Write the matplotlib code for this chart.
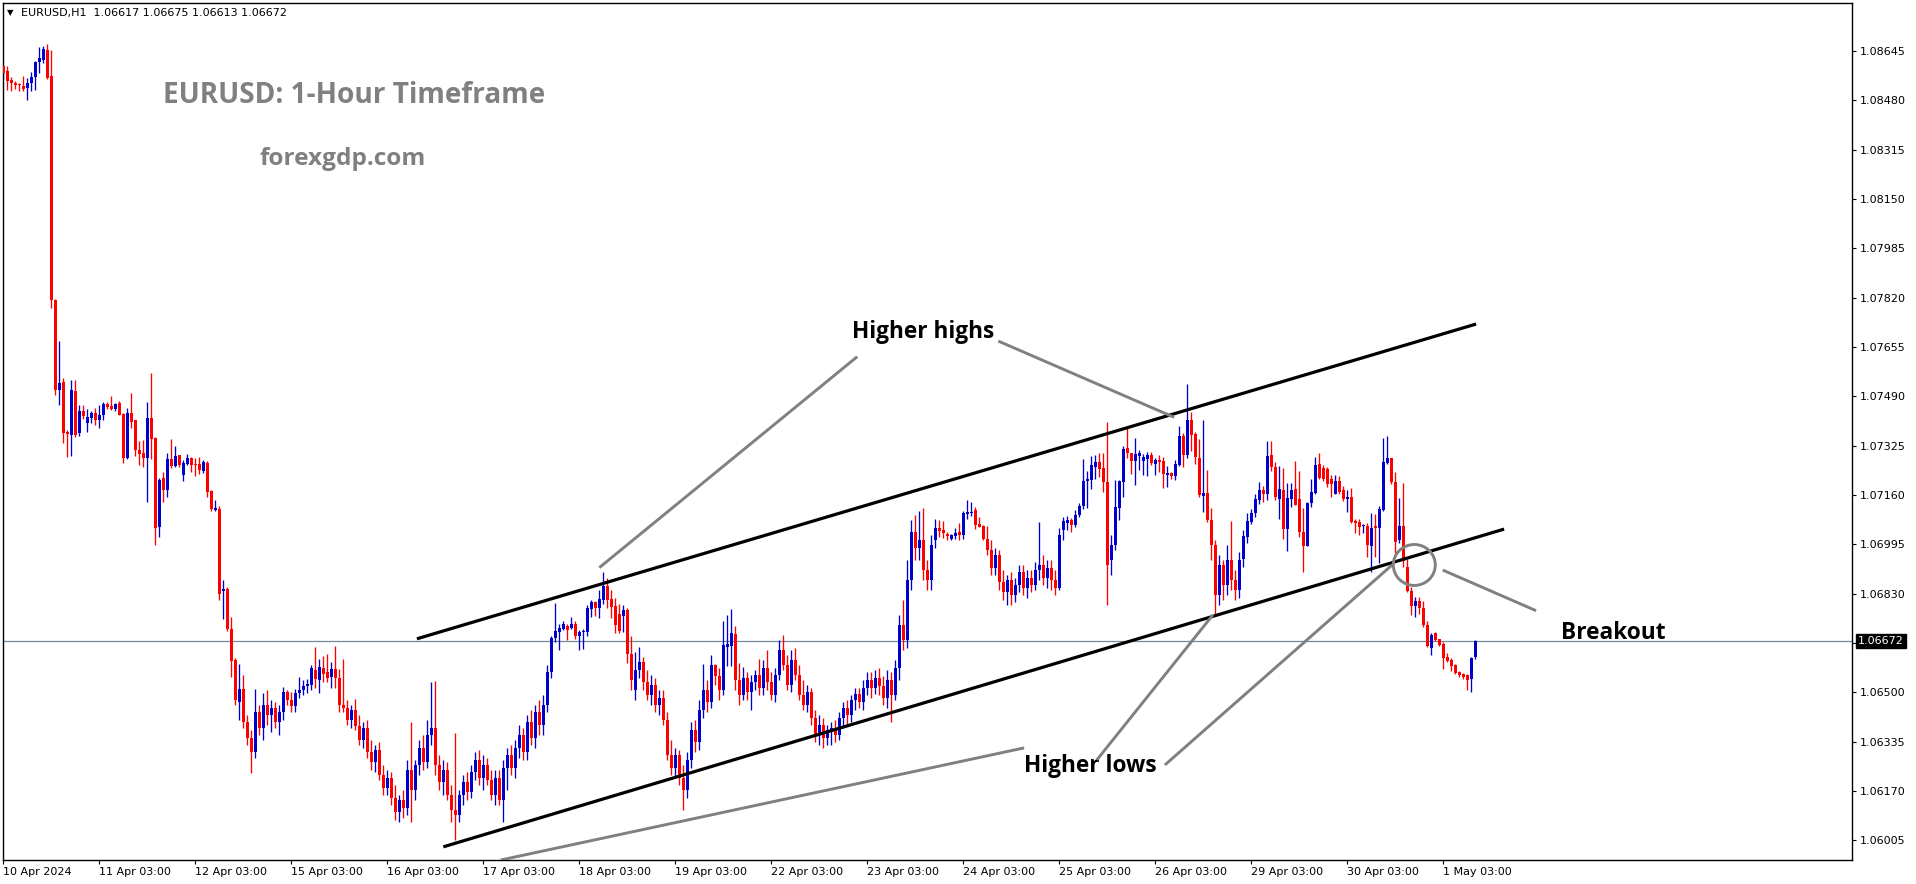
import numpy as np
import matplotlib
matplotlib.use("Agg")
import matplotlib.pyplot as plt
from matplotlib.patches import Ellipse

# ---------------- data (EURUSD H1) ----------------
opens = [
 1.08595,1.08579,1.08548,1.08538,1.08535,1.08528,1.08522,1.08538,1.08558,1.08609,1.08615,1.08649,
 1.08562,1.07813,1.07511,1.07538,1.07371,1.07361,1.07508,1.07368,1.07441,1.07401,1.07418,1.07435,
 1.07411,1.07428,1.07465,1.07458,1.07448,1.07468,1.07431,1.07284,1.07435,1.07411,1.07311,1.07301,
 1.07284,1.07418,1.07351,1.07053,1.07217,1.07177,1.07281,1.07257,1.07294,1.07227,1.07264,1.07284,
 1.07264,1.07264,1.07240,1.07267,1.07174,1.07110,1.07113,1.06839,1.06846,1.06712,1.06608,1.06467,
 1.06511,1.06401,1.06347,1.06300,1.06434,1.06381,1.06457,1.06424,1.06448,1.06401,1.06434,1.06501,
 1.06474,1.06454,1.06498,1.06508,1.06521,1.06524,1.06574,1.06541,1.06581,1.06568,1.06551,1.06578,
 1.06548,1.06457,1.06448,1.06408,1.06441,1.06387,1.06341,1.06381,1.06300,1.06267,1.06307,1.06223,
 1.06180,1.06214,1.06147,1.06100,1.06140,1.06113,1.06240,1.06173,1.06257,1.06314,1.06267,1.06357,
 1.06381,1.06257,1.06200,1.06240,1.06157,1.06107,1.06090,1.06157,1.06200,1.06167,1.06234,1.06274,
 1.06214,1.06257,1.06207,1.06157,1.06214,1.06140,1.06247,1.06290,1.06247,1.06314,1.06357,1.06300,
 1.06401,1.06347,1.06434,1.06391,1.06457,1.06568,1.06682,1.06702,1.06712,1.06722,1.06715,1.06729,
 1.06689,1.06702,1.06702,1.06779,1.06802,1.06782,1.06809,1.06856,1.06812,1.06789,1.06762,1.06755,
 1.06775,1.06628,1.06508,1.06574,1.06601,1.06535,1.06491,1.06524,1.06457,1.06481,1.06408,1.06290,
 1.06247,1.06290,1.06214,1.06173,1.06274,1.06374,1.06334,1.06441,1.06508,1.06468,1.06591,1.06555,
 1.06508,1.06652,1.06655,1.06695,1.06541,1.06491,1.06548,1.06501,1.06535,1.06558,1.06515,1.06581,
 1.06535,1.06491,1.06558,1.06641,1.06591,1.06524,1.06608,1.06558,1.06491,1.06457,1.06501,1.06414,
 1.06357,1.06391,1.06347,1.06374,1.06381,1.06357,1.06414,1.06448,1.06424,1.06474,1.06495,1.06468,
 1.06515,1.06541,1.06515,1.06548,1.06521,1.06481,1.06541,1.06491,1.06581,1.06725,1.06675,1.06876,
 1.07036,1.06983,1.07010,1.06909,1.06876,1.07010,1.07050,1.07043,1.07030,1.07013,1.07023,1.07036,
 1.07026,1.07097,1.07100,1.07110,1.07063,1.07056,1.07013,1.06976,1.06916,1.06959,1.06869,1.06836,
 1.06876,1.06826,1.06859,1.06903,1.06849,1.06883,1.06859,1.06909,1.06926,1.06883,1.06916,1.06876,
 1.06849,1.07043,1.07067,1.07077,1.07060,1.07093,1.07124,1.07207,1.07210,1.07254,1.07271,1.07251,
 1.07204,1.06943,1.06993,1.07117,1.07204,1.07317,1.07301,1.07274,1.07291,1.07274,1.07281,1.07294,
 1.07264,1.07277,1.07274,1.07227,1.07234,1.07224,1.07261,1.07358,1.07294,1.07411,1.07364,1.07284,
 1.07157,1.07167,1.07077,1.06993,1.06826,1.06926,1.06859,1.06943,1.06876,1.06842,1.06946,1.07020,
 1.07070,1.07100,1.07144,1.07177,1.07164,1.07294,1.07254,1.07147,1.07177,1.07046,1.07147,1.07180,
 1.07147,1.07036,1.06990,1.07134,1.07167,1.07264,1.07251,1.07247,1.07214,1.07164,1.07207,1.07177,
 1.07147,1.07154,1.07073,1.07070,1.07056,1.07056,1.06990,1.07056,1.07050,1.07110,1.07267,1.07284,
 1.07204,1.07010,1.07056,1.06919,1.06839,1.06789,1.06806,1.06782,1.06725,1.06648,1.06699,1.06679,
 1.06662,1.06618,1.06608,1.06591,1.06568,1.06561,1.06558,1.06545,1.06617]

highs = [
 1.08599,1.08595,1.08558,1.08545,1.08538,1.08562,1.08555,1.08575,1.08612,1.08659,1.08662,1.08669,
 1.08649,1.07816,1.07675,1.07552,1.07378,1.07545,1.07545,1.07461,1.07461,1.07448,1.07441,1.07451,
 1.07461,1.07471,1.07471,1.07491,1.07468,1.07475,1.07435,1.07451,1.07501,1.07411,1.07341,1.07344,
 1.07471,1.07568,1.07354,1.07217,1.07237,1.07301,1.07348,1.07324,1.07294,1.07277,1.07297,1.07287,
 1.07284,1.07287,1.07277,1.07274,1.07177,1.07144,1.07124,1.06876,1.06852,1.06752,1.06615,1.06595,
 1.06558,1.06424,1.06374,1.06511,1.06457,1.06498,1.06508,1.06474,1.06468,1.06457,1.06518,1.06508,
 1.06501,1.06511,1.06551,1.06541,1.06545,1.06591,1.06651,1.06611,1.06621,1.06628,1.06601,1.06655,
 1.06578,1.06611,1.06474,1.06457,1.06478,1.06424,1.06401,1.06408,1.06341,1.06324,1.06334,1.06257,
 1.06240,1.06234,1.06190,1.06157,1.06173,1.06274,1.06401,1.06274,1.06341,1.06357,1.06408,1.06535,
 1.06538,1.06290,1.06274,1.06267,1.06190,1.06364,1.06173,1.06223,1.06234,1.06257,1.06300,1.06307,
 1.06290,1.06280,1.06240,1.06240,1.06240,1.06274,1.06314,1.06324,1.06341,1.06391,1.06381,1.06424,
 1.06441,1.06457,1.06474,1.06491,1.06591,1.06689,1.06799,1.06729,1.06739,1.06729,1.06752,1.06739,
 1.06708,1.06712,1.06792,1.06809,1.06806,1.06842,1.06903,1.06883,1.06842,1.06816,1.06796,1.06792,
 1.06782,1.06689,1.06635,1.06651,1.06618,1.06574,1.06558,1.06548,1.06508,1.06508,1.06434,1.06341,
 1.06314,1.06307,1.06257,1.06300,1.06401,1.06408,1.06474,1.06595,1.06541,1.06625,1.06595,1.06581,
 1.06739,1.06759,1.06779,1.06722,1.06598,1.06585,1.06568,1.06558,1.06574,1.06611,1.06608,1.06641,
 1.06568,1.06581,1.06675,1.06692,1.06625,1.06641,1.06648,1.06591,1.06541,1.06524,1.06515,1.06441,
 1.06424,1.06414,1.06391,1.06401,1.06408,1.06434,1.06468,1.06474,1.06491,1.06515,1.06515,1.06541,
 1.06568,1.06568,1.06574,1.06581,1.06555,1.06574,1.06568,1.06608,1.06759,1.06809,1.06943,1.07077,
 1.07093,1.07107,1.07117,1.06943,1.07026,1.07080,1.07077,1.07073,1.07036,1.07030,1.07050,1.07067,
 1.07107,1.07144,1.07137,1.07120,1.07087,1.07060,1.07056,1.07010,1.06983,1.06976,1.06909,1.06893,
 1.06903,1.06883,1.06926,1.06926,1.06909,1.06909,1.06936,1.07070,1.06959,1.06943,1.06943,1.06909,
 1.07050,1.07087,1.07090,1.07083,1.07110,1.07133,1.07281,1.07240,1.07291,1.07294,1.07301,1.07301,
 1.07404,1.07026,1.07210,1.07210,1.07324,1.07388,1.07301,1.07351,1.07311,1.07297,1.07304,1.07304,
 1.07284,1.07294,1.07287,1.07257,1.07237,1.07277,1.07391,1.07368,1.07532,1.07438,1.07371,1.07348,
 1.07411,1.07244,1.07117,1.07010,1.06959,1.06943,1.06993,1.07073,1.06909,1.06970,1.07043,1.07100,
 1.07113,1.07164,1.07204,1.07190,1.07341,1.07341,1.07271,1.07257,1.07251,1.07200,1.07200,1.07274,
 1.07240,1.07117,1.07137,1.07214,1.07287,1.07301,1.07261,1.07254,1.07227,1.07227,1.07224,1.07190,
 1.07177,1.07184,1.07080,1.07080,1.07063,1.07067,1.07100,1.07097,1.07124,1.07351,1.07358,1.07284,
 1.07237,1.07150,1.07200,1.06946,1.06852,1.06819,1.06819,1.06806,1.06739,1.06699,1.06702,1.06679,
 1.06668,1.06632,1.06615,1.06595,1.06571,1.06565,1.06561,1.06618,1.06675]

lows = [
 1.08552,1.08515,1.08512,1.08518,1.08512,1.08512,1.08481,1.08512,1.08515,1.08572,1.08605,1.08552,
 1.07786,1.07495,1.07461,1.07334,1.07287,1.07291,1.07354,1.07358,1.07414,1.07371,1.07401,1.07394,
 1.07384,1.07411,1.07448,1.07445,1.07441,1.07428,1.07267,1.07281,1.07384,1.07291,1.07261,1.07254,
 1.07137,1.07281,1.06993,1.07020,1.07137,1.07154,1.07251,1.07254,1.07254,1.07207,1.07261,1.07237,
 1.07224,1.07230,1.07234,1.07154,1.07107,1.07107,1.06809,1.06745,1.06705,1.06551,1.06457,1.06408,
 1.06381,1.06324,1.06230,1.06280,1.06357,1.06341,1.06391,1.06367,1.06381,1.06357,1.06408,1.06457,
 1.06434,1.06434,1.06481,1.06491,1.06498,1.06508,1.06515,1.06498,1.06535,1.06535,1.06515,1.06515,
 1.06434,1.06434,1.06391,1.06381,1.06374,1.06324,1.06314,1.06280,1.06240,1.06234,1.06207,1.06157,
 1.06157,1.06123,1.06073,1.06066,1.06080,1.06090,1.06066,1.06140,1.06223,1.06240,1.06247,1.06324,
 1.06223,1.06173,1.06157,1.06140,1.06066,1.06006,1.06066,1.06123,1.06140,1.06147,1.06207,1.06190,
 1.06173,1.06190,1.06140,1.06123,1.06123,1.06066,1.06173,1.06223,1.06214,1.06280,1.06274,1.06274,
 1.06324,1.06314,1.06357,1.06357,1.06434,1.06548,1.06669,1.06642,1.06708,1.06675,1.06712,1.06679,
 1.06641,1.06645,1.06689,1.06752,1.06755,1.06749,1.06796,1.06782,1.06749,1.06699,1.06699,1.06702,
 1.06598,1.06508,1.06474,1.06548,1.06508,1.06474,1.06457,1.06434,1.06424,1.06391,1.06274,1.06223,
 1.06214,1.06190,1.06107,1.06147,1.06247,1.06300,1.06307,1.06414,1.06434,1.06448,1.06524,1.06474,
 1.06491,1.06588,1.06588,1.06508,1.06457,1.06474,1.06474,1.06441,1.06508,1.06491,1.06491,1.06508,
 1.06474,1.06468,1.06541,1.06574,1.06508,1.06501,1.06541,1.06474,1.06441,1.06434,1.06391,1.06334,
 1.06324,1.06314,1.06324,1.06324,1.06334,1.06341,1.06381,1.06391,1.06401,1.06441,1.06448,1.06441,
 1.06491,1.06481,1.06495,1.06491,1.06457,1.06448,1.06401,1.06474,1.06541,1.06641,1.06648,1.06842,
 1.06943,1.06943,1.06876,1.06842,1.06842,1.06983,1.07020,1.07016,1.07010,1.07010,1.07013,1.07010,
 1.07013,1.07080,1.07090,1.07046,1.07053,1.07010,1.06959,1.06893,1.06893,1.06842,1.06809,1.06792,
 1.06792,1.06802,1.06836,1.06826,1.06816,1.06836,1.06842,1.06876,1.06859,1.06849,1.06842,1.06826,
 1.06842,1.07010,1.07043,1.07036,1.07053,1.07087,1.07113,1.07117,1.07180,1.07214,1.07220,1.07170,
 1.06792,1.06893,1.06976,1.07077,1.07154,1.07284,1.07231,1.07194,1.07244,1.07227,1.07224,1.07261,
 1.07227,1.07237,1.07184,1.07187,1.07214,1.07210,1.07257,1.07254,1.07284,1.07307,1.07264,1.07154,
 1.07103,1.07070,1.06943,1.06759,1.06792,1.06809,1.06826,1.06842,1.06809,1.06816,1.06919,1.07000,
 1.07063,1.07087,1.07130,1.07137,1.07144,1.07240,1.07144,1.07080,1.07013,1.06973,1.07120,1.07127,
 1.07020,1.06903,1.06990,1.07120,1.07164,1.07214,1.07207,1.07187,1.07154,1.07164,1.07164,1.07140,
 1.07103,1.07067,1.07033,1.07026,1.07033,1.06953,1.06903,1.06953,1.06933,1.07107,1.07264,1.07197,
 1.06966,1.07000,1.06919,1.06836,1.06759,1.06752,1.06762,1.06719,1.06652,1.06625,1.06672,1.06655,
 1.06578,1.06602,1.06571,1.06561,1.06551,1.06545,1.06508,1.06501,1.06613]

closes = [
 1.08572,1.08545,1.08538,1.08532,1.08532,1.08518,1.08538,1.08558,1.08609,1.08622,1.08652,1.08555,
 1.07813,1.07511,1.07535,1.07368,1.07364,1.07511,1.07361,1.07441,1.07424,1.07421,1.07435,1.07411,
 1.07428,1.07465,1.07455,1.07448,1.07465,1.07428,1.07284,1.07435,1.07404,1.07311,1.07297,1.07284,
 1.07418,1.07348,1.07050,1.07210,1.07177,1.07281,1.07257,1.07291,1.07261,1.07267,1.07284,1.07261,
 1.07261,1.07244,1.07271,1.07170,1.07113,1.07117,1.06829,1.06846,1.06712,1.06605,1.06474,1.06511,
 1.06401,1.06347,1.06300,1.06434,1.06381,1.06457,1.06424,1.06448,1.06401,1.06434,1.06501,1.06474,
 1.06454,1.06498,1.06508,1.06521,1.06528,1.06581,1.06545,1.06585,1.06561,1.06548,1.06578,1.06548,
 1.06457,1.06448,1.06408,1.06441,1.06387,1.06341,1.06381,1.06300,1.06267,1.06307,1.06223,1.06180,
 1.06214,1.06147,1.06100,1.06140,1.06113,1.06240,1.06173,1.06257,1.06314,1.06267,1.06357,1.06381,
 1.06257,1.06200,1.06240,1.06157,1.06107,1.06090,1.06157,1.06200,1.06167,1.06234,1.06274,1.06214,
 1.06257,1.06207,1.06157,1.06214,1.06140,1.06247,1.06290,1.06247,1.06314,1.06357,1.06300,1.06401,
 1.06347,1.06434,1.06391,1.06457,1.06568,1.06682,1.06705,1.06715,1.06729,1.06708,1.06729,1.06689,
 1.06702,1.06705,1.06782,1.06802,1.06782,1.06812,1.06856,1.06809,1.06786,1.06725,1.06705,1.06775,
 1.06628,1.06541,1.06574,1.06601,1.06535,1.06491,1.06524,1.06457,1.06481,1.06408,1.06290,1.06247,
 1.06290,1.06214,1.06173,1.06274,1.06374,1.06334,1.06441,1.06508,1.06468,1.06591,1.06555,1.06508,
 1.06658,1.06662,1.06699,1.06541,1.06491,1.06548,1.06501,1.06535,1.06558,1.06515,1.06581,1.06535,
 1.06491,1.06558,1.06641,1.06591,1.06524,1.06608,1.06558,1.06491,1.06457,1.06501,1.06414,1.06357,
 1.06391,1.06347,1.06374,1.06381,1.06357,1.06414,1.06448,1.06424,1.06474,1.06495,1.06468,1.06515,
 1.06541,1.06515,1.06548,1.06521,1.06481,1.06541,1.06491,1.06581,1.06725,1.06675,1.06876,1.07036,
 1.06983,1.07010,1.06909,1.06876,1.06993,1.07050,1.07040,1.07033,1.07023,1.07026,1.07033,1.07026,
 1.07100,1.07103,1.07103,1.07060,1.07053,1.07013,1.06976,1.06916,1.06959,1.06869,1.06836,1.06876,
 1.06826,1.06859,1.06903,1.06849,1.06883,1.06859,1.06909,1.06926,1.06883,1.06916,1.06876,1.06849,
 1.07026,1.07073,1.07077,1.07060,1.07093,1.07124,1.07207,1.07214,1.07261,1.07271,1.07247,1.07204,
 1.06926,1.06993,1.07120,1.07207,1.07314,1.07301,1.07274,1.07297,1.07301,1.07287,1.07294,1.07267,
 1.07277,1.07271,1.07231,1.07234,1.07224,1.07264,1.07358,1.07294,1.07411,1.07361,1.07287,1.07160,
 1.07167,1.07077,1.06993,1.06826,1.06926,1.06859,1.06943,1.06876,1.06842,1.06943,1.07023,1.07073,
 1.07100,1.07147,1.07177,1.07164,1.07291,1.07254,1.07154,1.07180,1.07046,1.07150,1.07177,1.07127,
 1.07036,1.06990,1.07134,1.07170,1.07261,1.07217,1.07214,1.07197,1.07197,1.07207,1.07170,1.07147,
 1.07154,1.07070,1.07067,1.07053,1.07060,1.06993,1.07050,1.07050,1.07113,1.07271,1.07284,1.07204,
 1.07003,1.07056,1.06940,1.06839,1.06789,1.06806,1.06782,1.06725,1.06655,1.06692,1.06675,1.06658,
 1.06615,1.06605,1.06588,1.06565,1.06558,1.06551,1.06541,1.06615,1.06672]

date_labels = ["10 Apr 2024", "11 Apr 03:00", "12 Apr 03:00", "15 Apr 03:00", "16 Apr 03:00",
               "17 Apr 03:00", "18 Apr 03:00", "19 Apr 03:00", "22 Apr 03:00", "23 Apr 03:00",
               "24 Apr 03:00", "25 Apr 03:00", "26 Apr 03:00", "29 Apr 03:00", "30 Apr 03:00",
               "1 May 03:00"]
date_label_bars = [0, 24, 48, 72, 96, 120, 144, 168, 192, 216, 240, 264, 288, 312, 336, 360]
price_ticks = [1.08645, 1.08480, 1.08315, 1.08150, 1.07985, 1.07820, 1.07655, 1.07490,
               1.07325, 1.07160, 1.06995, 1.06830, 1.06665, 1.06500, 1.06335, 1.06170, 1.06005]
bid_price = 1.06672
header = "EURUSD,H1  1.06617 1.06675 1.06613 1.06672"

# trend channel & annotation anchors (bar index, price)
upper_channel = [(103.4, 1.06679), (368.2, 1.07732)]
lower_channel = [(110.0, 1.05983), (375.2, 1.07046)]
pointer_lines = [
    [(149.0, 1.06917), (213.5, 1.07623)],
    [(248.75, 1.07675), (292.7, 1.07420)],
    [(255.2, 1.06314), (124.4, 1.05939)],
    [(273.4, 1.06274), (302.4, 1.06759)],
    [(290.4, 1.06257), (347.2, 1.06926)],
    [(359.85, 1.06909), (383.2, 1.06773)],
]
breakout_circle = (352.75, 1.06926)

# ---------------- figure ----------------
W, H = 1916, 884
fig = plt.figure(figsize=(W / 100, H / 100), dpi=100)
fig.patch.set_facecolor("white")
ax = fig.add_axes([3 / W, 24 / H, 1849 / W, 857 / H])
ax.set_facecolor("white")

o = np.array(opens); h = np.array(highs); l = np.array(lows); c = np.array(closes)
idx = np.arange(len(o))
up = c >= o
bull, bear = "#0000CC", "#FF0000"
cols = np.where(up, bull, bear)

ax.axhline(bid_price, color="#778899", lw=0.9, zorder=1)
ax.vlines(idx, l, h, colors=cols, lw=0.95, zorder=2)
body_h = np.maximum(np.abs(c - o), 0.000034)
ax.bar(idx, body_h, bottom=np.minimum(o, c), width=0.78, color=cols,
       linewidth=0, zorder=3)

# channel lines
for seg in (upper_channel, lower_channel):
    xs, ys = zip(*seg)
    ax.plot(xs, ys, color="black", lw=2.3, solid_capstyle="butt", zorder=5)
for seg in pointer_lines:
    xs, ys = zip(*seg)
    ax.plot(xs, ys, color="#808080", lw=2.1, solid_capstyle="butt", zorder=5,
            clip_on=True)
ax.add_patch(Ellipse(breakout_circle, width=10.5, height=0.00137, fill=False,
                     ec="#808080", lw=2.1, zorder=6))

ax.set_xlim(-0.075, 462.175)
ax.set_ylim(1.05939, 1.08806)

# texts
ax.text(39.9, 1.08498, "EURUSD: 1-Hour Timeframe", fontfamily="Open Sans",
        fontweight="bold", fontsize=20.2, color="#808080", ha="left", va="center")
ax.text(64.0, 1.08284, "forexgdp.com", fontfamily="Open Sans",
        fontweight="bold", fontsize=17.6, color="#808080", ha="left", va="center")
ax.text(212.2, 1.07705, "Higher highs", fontfamily="Open Sans",
        fontweight="bold", fontsize=16.3, color="black", ha="left", va="center")
ax.text(255.3, 1.06254, "Higher lows", fontfamily="Open Sans",
        fontweight="bold", fontsize=16.3, color="black", ha="left", va="center")
ax.text(389.4, 1.06699, "Breakout", fontfamily="Open Sans",
        fontweight="bold", fontsize=16.3, color="black", ha="left", va="center")

# axes styling
for s in ax.spines.values():
    s.set_color("black")
    s.set_linewidth(1.0)
ax.yaxis.tick_right()
ax.set_yticks(price_ticks)
ax.set_yticklabels([f"{p:.5f}" for p in price_ticks])
ax.tick_params(axis="y", right=True, left=False, length=3, width=0.8, pad=2.5,
               labelsize=8, colors="black")
ax.set_xticks(date_label_bars)
ax.set_xticklabels(date_labels, ha="left")
ax.tick_params(axis="x", length=3, width=0.8, pad=2, labelsize=8, colors="black")

# bid label box
ax.text(1.0 + 6 / 1849, bid_price, f"{bid_price:.5f}", transform=ax.get_yaxis_transform(),
        ha="left", va="center", fontsize=8, color="white", zorder=10, clip_on=False,
        bbox=dict(boxstyle="square,pad=0.18", fc="black", ec="black"))

# header
fig.text(7 / W, 1 - 13 / H, "\u25BC", fontsize=6, ha="left", va="center", color="black")
fig.text(21 / W, 1 - 13 / H, header, fontsize=8.0, ha="left", va="center", color="black")

fig.savefig("out.png", dpi=100, facecolor="white")
